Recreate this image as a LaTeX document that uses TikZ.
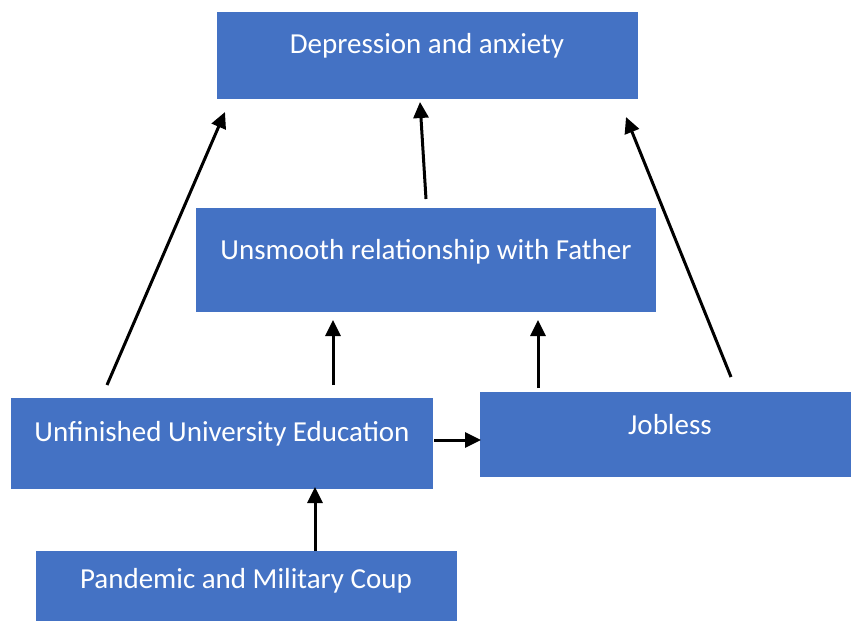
\documentclass[tikz,border=0pt]{standalone}
\usepackage{fontspec}
\setmainfont{Carlito}
\usetikzlibrary{arrows.meta}
\definecolor{boxblue}{HTML}{4472C4}
\tikzset{
  bx/.style={draw=none, fill=boxblue, inner sep=0pt, anchor=north west},
  lbl/.style={text=white, font=\fontsize{29}{34}\selectfont, inner sep=0pt},
  arr/.style={line width=3pt, -{Triangle[length=16pt,width=15pt]}}
}
\begin{document}
\begin{tikzpicture}[x=1pt,y=-1pt]
\useasboundingbox (0,0) rectangle (851,622);
% boxes
\node[bx, minimum width=421pt, minimum height=87pt] (dep) at (217,12) {};
\node[bx, minimum width=460pt, minimum height=104pt] (rel) at (196,208) {};
\node[bx, minimum width=422pt, minimum height=91pt] (uni) at (11,398) {};
\node[bx, minimum width=371pt, minimum height=85pt] (job) at (480,392) {};
\node[bx, minimum width=421pt, minimum height=70pt] (pan) at (36,551) {};
% labels
\node[lbl] (tdep) at (427,46) {Depression and anxiety};
\node[lbl] (trel) at (426,252) {Unsmooth relationship with Father};
\node[lbl] (tuni) at (222,434) {Unfinished University Education};
\node[lbl] (tjob) at (670,425) {Jobless};
\node[lbl] (tpan) at (246,581) {Pandemic and Military Coup};
% connector ends
\coordinate (u1) at (107,385);
\coordinate (d1) at (225,112);
\coordinate (r1) at (426,199);
\coordinate (d2) at (420,102);
\coordinate (j1) at (731,377);
\coordinate (d3) at (626,117);
\coordinate (u2) at (333,385);
\coordinate (r2) at (333,320);
\coordinate (j2) at (538,388);
\coordinate (r3) at (538,320);
\coordinate (u3) at (434,440);
\coordinate (j3) at (481,440);
\coordinate (p1) at (315,551);
\coordinate (u4) at (315,487);
% connectors
\draw[arr] (u1) -- (d1);
\draw[arr] (r1) -- (d2);
\draw[arr] (j1) -- (d3);
\draw[arr] (u2) -- (r2);
\draw[arr] (j2) -- (r3);
\draw[arr] (u3) -- (j3);
\draw[arr] (p1) -- (u4);
\end{tikzpicture}
\end{document}
